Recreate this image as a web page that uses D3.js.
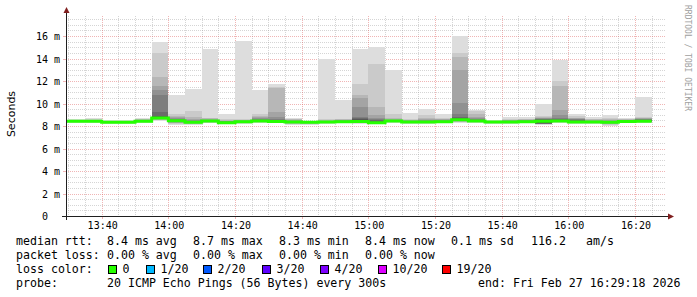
<!DOCTYPE html>
<html><head><meta charset="utf-8">
<script src="https://cdn.jsdelivr.net/npm/d3@7"></script>
<style>
html,body{margin:0;padding:0;background:#fff;}
svg{display:block;}
text{white-space:pre;}
</style></head><body>
<svg id="c" width="697" height="297"></svg>
<script>
// ---------- data ----------
const startLabel = "13:29:18";
const endLabel = "16:29:18";
const intervalEnds = ["13:30","13:35","13:40","13:45","13:50","13:55","14:00","14:05","14:10","14:15","14:20","14:25",
  "14:30","14:35","14:40","14:45","14:50","14:55","15:00","15:05","15:10","15:15","15:20","15:25",
  "15:30","15:35","15:40","15:45","15:50","15:55","16:00","16:05","16:10","16:15","16:20","16:25"];
const stepSeconds = 300;
// median rtt (ms) per interval
const medians = [8.42,8.42,8.42,8.33,8.33,8.42,8.71,8.46,8.33,8.44,8.28,8.37,
  8.44,8.40,8.35,8.33,8.35,8.38,8.40,8.30,8.44,8.36,8.36,8.38,
  8.55,8.44,8.36,8.36,8.38,8.43,8.44,8.36,8.36,8.33,8.40,8.43];
// 20 sorted ping rtts (ms) per interval
const pings = [
 [8.30,8.33,8.35,8.36,8.37,8.38,8.39,8.40,8.41,8.42,8.42,8.43,8.44,8.45,8.46,8.47,8.48,8.50,8.52,8.56],
 [8.30,8.33,8.35,8.36,8.37,8.38,8.39,8.40,8.41,8.41,8.43,8.44,8.45,8.46,8.47,8.48,8.50,8.52,8.55,8.60],
 [8.28,8.32,8.34,8.36,8.37,8.38,8.39,8.40,8.41,8.41,8.43,8.44,8.45,8.46,8.47,8.49,8.51,8.54,8.60,8.73],
 [8.22,8.25,8.27,8.28,8.29,8.30,8.31,8.32,8.32,8.33,8.33,8.34,8.35,8.36,8.37,8.38,8.40,8.42,8.45,8.50],
 [8.22,8.25,8.27,8.28,8.29,8.30,8.31,8.32,8.32,8.33,8.33,8.34,8.35,8.36,8.37,8.38,8.40,8.42,8.46,8.52],
 [8.30,8.33,8.35,8.36,8.37,8.38,8.39,8.40,8.41,8.42,8.42,8.44,8.46,8.48,8.50,8.53,8.56,8.60,8.64,8.72],
 [8.45,8.52,8.56,8.60,8.62,8.64,8.66,8.68,8.69,8.70,8.72,8.80,8.90,9.23,10.72,11.17,11.53,12.36,14.45,15.50],
 [8.13,8.20,8.25,8.28,8.32,8.35,8.38,8.40,8.43,8.45,8.47,8.49,8.51,8.55,8.60,8.70,8.80,8.90,9.05,10.75],
 [8.07,8.14,8.20,8.24,8.26,8.28,8.30,8.31,8.32,8.33,8.33,8.35,8.38,8.42,8.48,8.55,8.65,8.80,9.30,11.26],
 [8.25,8.30,8.33,8.35,8.37,8.39,8.40,8.41,8.42,8.43,8.45,8.46,8.48,8.50,8.53,8.56,8.60,8.67,8.75,14.83],
 [8.15,8.19,8.21,8.23,8.24,8.25,8.26,8.27,8.27,8.28,8.28,8.30,8.34,8.38,8.42,8.45,8.48,8.52,8.58,9.05],
 [8.22,8.26,8.28,8.30,8.32,8.33,8.34,8.35,8.36,8.37,8.37,8.38,8.40,8.42,8.44,8.47,8.50,8.55,8.62,15.55],
 [8.28,8.32,8.35,8.37,8.38,8.40,8.41,8.42,8.43,8.44,8.44,8.46,8.50,8.55,8.62,8.70,8.78,8.90,9.10,11.17],
 [8.25,8.29,8.31,8.33,8.35,8.36,8.37,8.38,8.39,8.40,8.40,8.42,8.46,8.52,8.62,8.76,9.27,11.40,11.45,11.77],
 [8.07,8.15,8.20,8.24,8.27,8.29,8.31,8.33,8.34,8.35,8.35,8.37,8.39,8.41,8.44,8.47,8.52,8.58,8.64,8.75],
 [8.10,8.17,8.21,8.24,8.27,8.29,8.30,8.31,8.32,8.33,8.33,8.34,8.35,8.36,8.37,8.38,8.39,8.41,8.43,8.46],
 [8.22,8.26,8.28,8.30,8.31,8.32,8.33,8.34,8.34,8.35,8.35,8.36,8.38,8.40,8.42,8.45,8.48,8.52,8.58,14.00],
 [8.24,8.27,8.29,8.31,8.33,8.34,8.35,8.36,8.37,8.38,8.38,8.40,8.42,8.44,8.47,8.50,8.54,8.58,8.64,10.28],
 [8.20,8.25,8.28,8.31,8.33,8.35,8.36,8.37,8.38,8.39,8.41,8.55,8.62,8.70,8.80,9.71,10.46,10.72,11.77,14.83],
 [8.15,8.20,8.23,8.25,8.26,8.27,8.28,8.29,8.29,8.30,8.30,8.35,8.45,8.55,8.62,8.70,9.00,9.70,13.55,15.04],
 [8.28,8.32,8.35,8.37,8.39,8.40,8.41,8.42,8.43,8.44,8.44,8.46,8.48,8.50,8.53,8.57,8.62,8.70,9.10,13.02],
 [8.22,8.26,8.28,8.30,8.32,8.33,8.34,8.35,8.35,8.36,8.36,8.38,8.40,8.42,8.45,8.48,8.52,8.56,8.62,9.12],
 [8.20,8.25,8.28,8.30,8.32,8.33,8.34,8.35,8.35,8.36,8.36,8.38,8.40,8.44,8.48,8.54,8.62,8.72,9.00,9.47],
 [8.24,8.27,8.30,8.32,8.34,8.35,8.36,8.37,8.37,8.38,8.38,8.40,8.42,8.45,8.48,8.52,8.58,8.64,8.72,9.10],
 [8.30,8.36,8.40,8.43,8.46,8.48,8.50,8.52,8.53,8.54,8.56,8.62,8.70,8.80,9.10,10.04,13.02,14.15,14.45,16.00],
 [8.28,8.32,8.35,8.37,8.39,8.40,8.41,8.42,8.43,8.44,8.44,8.46,8.50,8.56,8.64,8.73,8.80,9.10,9.30,9.45],
 [8.22,8.26,8.28,8.30,8.32,8.33,8.34,8.35,8.35,8.36,8.36,8.37,8.38,8.39,8.40,8.41,8.42,8.44,8.46,8.50],
 [8.22,8.26,8.28,8.30,8.32,8.33,8.34,8.35,8.35,8.36,8.36,8.38,8.40,8.42,8.44,8.47,8.50,8.54,8.60,8.76],
 [8.24,8.27,8.30,8.32,8.34,8.35,8.36,8.37,8.37,8.38,8.38,8.40,8.42,8.44,8.47,8.50,8.54,8.58,8.62,8.82],
 [8.10,8.14,8.17,8.19,8.20,8.21,8.22,8.23,8.24,8.42,8.44,8.50,8.56,8.60,8.64,8.68,8.72,8.76,8.90,10.00],
 [8.28,8.32,8.35,8.37,8.39,8.40,8.41,8.42,8.43,8.44,8.44,8.48,8.55,8.62,8.67,9.00,9.38,11.60,12.00,13.85],
 [8.22,8.26,8.28,8.30,8.32,8.33,8.34,8.35,8.35,8.36,8.36,8.40,8.48,8.55,8.60,8.64,8.70,8.75,8.90,9.10],
 [8.22,8.26,8.28,8.30,8.32,8.33,8.34,8.35,8.35,8.36,8.36,8.38,8.40,8.42,8.45,8.48,8.52,8.58,8.65,8.80],
 [8.04,8.12,8.18,8.22,8.25,8.27,8.29,8.31,8.32,8.33,8.33,8.35,8.37,8.40,8.43,8.47,8.52,8.60,8.72,9.00],
 [8.26,8.30,8.32,8.34,8.36,8.37,8.38,8.39,8.39,8.40,8.40,8.42,8.44,8.46,8.49,8.52,8.56,8.60,8.64,8.70],
 [8.28,8.32,8.35,8.37,8.39,8.40,8.41,8.42,8.42,8.43,8.43,8.47,8.52,8.57,8.62,8.66,8.70,8.75,8.80,10.55]
];
const yTicks = [0,2,4,6,8,10,12,14,16];
const yTickLabels = [" 0"," 2 m"," 4 m"," 6 m"," 8 m","10 m","12 m","14 m","16 m"];
const xTickLabels = ["13:40","14:00","14:20","14:40","15:00","15:20","15:40","16:00","16:20"];
const lossLabels = ["0","1/20","2/20","3/20","4/20","10/20","19/20"];
const lossColors = ["#26ff00","#00b8ff","#0059ff","#5e00ff","#7e00ff","#dd00ff","#ff0000"];
const legendRows = [
  [["median rtt:",16],["8.4 ms avg",107],["8.7 ms max",193],["8.3 ms min",279],["8.4 ms now",365],["0.1 ms sd",451],["116.2",531],["am/s",586]],
  [["packet loss:",16],["0.00 % avg",107],["0.00 % max",193],["0.00 % min",279],["0.00 % now",365]],
  [["loss color:",16]],
  [["probe:",16],["20 ICMP Echo Pings (56 Bytes) every 300s",107],["end: Fri Feb 27 16:29:18 2026",478]]
];
const lossSwatchX = [108,146,203,262,320,378,442];

// ---------- helpers ----------
const day = [2026,1,27];
function t(s){const p=s.split(":").map(Number);return new Date(day[0],day[1],day[2],p[0],p[1],p[2]||0);}
const startTime=t(startLabel), endTime=t(endLabel);

const svg=d3.select("#c");
svg.append("rect").attr("width",697).attr("height",297).attr("fill","#fff");

const x=d3.scaleTime().domain([startTime,endTime]).range([66,666]);
const y=d3.scaleLinear().domain([0,17.78]).range([216,16]);
const cr=v=>Math.round(v)+0.5;

const mono="'DejaVu Sans Mono', monospace";
const sans="'DejaVu Sans', sans-serif";

svg.append("defs").append("clipPath").attr("id","plot")
  .append("rect").attr("x",66).attr("y",16).attr("width",600).attr("height",200);

// ---------- grid ----------
const g=svg.append("g");
const minorTimes=d3.timeMinute.every(5).range(startTime,endTime);
const majorTimes=d3.timeMinute.every(20).range(startTime,endTime);
const minorColor="rgba(150,150,150,0.4)", majorColor="rgba(222,90,90,0.45)";
// minor horizontal
const minorY=d3.range(1,36).map(i=>i*0.5).filter(v=>v%2!==0);
g.selectAll("line.mh").data(minorY).enter().append("line")
  .attr("x1",66).attr("x2",666).attr("y1",d=>cr(y(d))).attr("y2",d=>cr(y(d)))
  .attr("stroke",minorColor).attr("stroke-dasharray","1,1");
g.selectAll("line.mv").data(minorTimes.filter(d=>d.getMinutes()%20!==0)).enter().append("line")
  .attr("y1",16).attr("y2",216).attr("x1",d=>cr(x(d))).attr("x2",d=>cr(x(d)))
  .attr("stroke",minorColor).attr("stroke-dasharray","1,1");
g.selectAll("line.Mh").data(yTicks.filter(d=>d>0)).enter().append("line")
  .attr("x1",66).attr("x2",666).attr("y1",d=>cr(y(d))).attr("y2",d=>cr(y(d)))
  .attr("stroke",majorColor).attr("stroke-dasharray","1,1");
g.selectAll("line.Mv").data(majorTimes).enter().append("line")
  .attr("y1",16).attr("y2",216).attr("x1",d=>cr(x(d))).attr("x2",d=>cr(x(d)))
  .attr("stroke",majorColor).attr("stroke-dasharray","1,1");
// tick marks
g.selectAll("line.tY").data(yTicks).enter().append("line")
  .attr("x1",63).attr("x2",66).attr("y1",d=>cr(y(d))).attr("y2",d=>cr(y(d)))
  .attr("stroke",majorColor);
g.selectAll("line.tX").data(majorTimes).enter().append("line")
  .attr("y1",216).attr("y2",219).attr("x1",d=>cr(x(d))).attr("x2",d=>cr(x(d)))
  .attr("stroke",majorColor);

// ---------- smoke ----------
const data=intervalEnds.map((e,i)=>{const end=t(e);return {start:new Date(end-stepSeconds*1000),end,median:medians[i],p:pings[i]};});
const plot=svg.append("g").attr("clip-path","url(#plot)");
const half=10;
data.forEach(d=>{
  for(let i=1;i<=half;i++){
    const c=Math.floor(190/half*(half-i))+50;
    const lo=d.p[i-1], hi=d.p[20-i];
    plot.append("rect")
      .attr("x",x(d.start)).attr("width",x(d.end)-x(d.start))
      .attr("y",y(hi)).attr("height",Math.max(0,y(lo)-y(hi)))
      .attr("fill",d3.rgb(c,c,c)).attr("shape-rendering","crispEdges");
  }
});
// median line
const pts=data.map(d=>[d.start,d.median]);
pts.push([data[data.length-1].end,data[data.length-1].median]);
plot.append("path").attr("d",d3.line().x(d=>x(d[0])).y(d=>y(d[1])).curve(d3.curveStepAfter)(pts))
  .attr("fill","none").attr("stroke",lossColors[0]).attr("stroke-width",3);

// ---------- axes ----------
const axisColor="#1f1f1f", arrowColor="#801f1f";
svg.append("line").attr("x1",62).attr("x2",669).attr("y1",216.5).attr("y2",216.5).attr("stroke",axisColor);
svg.append("line").attr("x1",66.5).attr("x2",66.5).attr("y1",220).attr("y2",12).attr("stroke",axisColor);
svg.append("path").attr("d","M668,213.5 L674,216.5 L668,219.5 Z").attr("fill",arrowColor);
svg.append("path").attr("d","M63.5,13 L66.5,7 L69.5,13 Z").attr("fill",arrowColor);

// y labels
svg.selectAll("text.yl").data(yTicks).enter().append("text")
  .attr("x",36).attr("y",d=>cr(y(d))+3.5).text((d,i)=>yTickLabels[i])
  .attr("font-family",mono).attr("font-size",10).attr("fill","#000");
// x labels
svg.selectAll("text.xl").data(majorTimes).enter().append("text")
  .attr("x",d=>x(d)+1).attr("y",229).attr("text-anchor","middle").text((d,i)=>xTickLabels[i])
  .attr("font-family",mono).attr("font-size",10).attr("fill","#000");
// y title
svg.append("text").attr("transform","translate(15,114) rotate(-90)").attr("text-anchor","middle")
  .attr("font-family",sans).attr("font-size",11).attr("fill","#000").text("Seconds");
// watermark
svg.append("text").attr("transform","translate(685,5) rotate(90)")
  .attr("font-family",mono).attr("font-size",8).attr("fill","#a0a0a0").text("RRDTOOL / TOBI OETIKER");

// ---------- legend ----------
const rowY=[245,259,273,287];
legendRows.forEach((row,ri)=>{
  row.forEach(([s,xx])=>{
    svg.append("text").attr("x",xx).attr("y",rowY[ri]).text(s)
      .attr("font-family",mono).attr("font-size",11.6).attr("fill","#000");
  });
});
lossLabels.forEach((l,i)=>{
  svg.append("rect").attr("x",lossSwatchX[i]+0.5).attr("y",265.5).attr("width",8).attr("height",8)
    .attr("fill",lossColors[i]).attr("stroke","#000").attr("stroke-width",1);
  svg.append("text").attr("x",lossSwatchX[i]+14.5).attr("y",273).text(l)
    .attr("font-family",mono).attr("font-size",11.6).attr("fill","#000");
});
</script>
</body></html>
